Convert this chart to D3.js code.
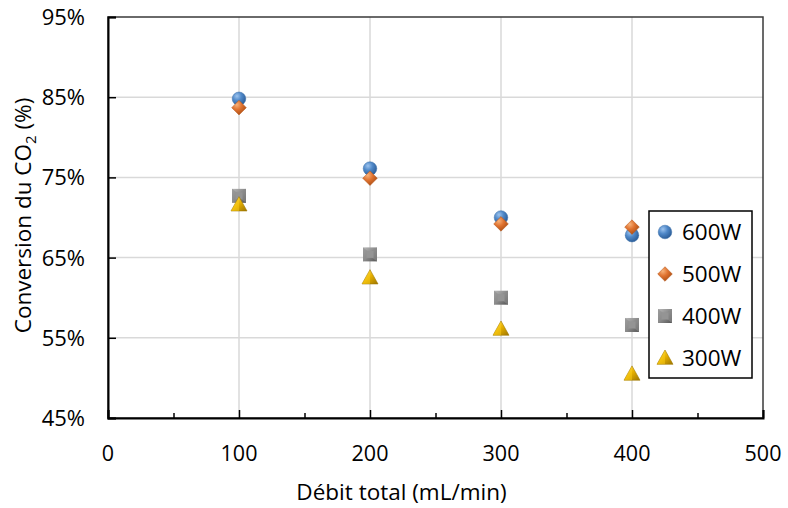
<!DOCTYPE html>
<html><head><meta charset="utf-8">
<script src="https://cdn.jsdelivr.net/npm/d3@7"></script>
<style>body{margin:0;background:#fff}svg{display:block}text{font-family:"Open Sans",sans-serif;fill:#000}</style>
</head><body><svg id="c" width="788" height="508"></svg>
<script>
const debit = [100, 200, 300, 400];
const s600 = [84.8, 76.1, 70.0, 67.8];
const s500 = [83.7, 74.9, 69.2, 68.8];
const s400 = [72.7, 65.4, 60.0, 56.6];
const s300 = [71.6, 62.5, 56.1, 50.5];
const seriesNames = ["600W", "500W", "400W", "300W"];
const xTicks = [0, 100, 200, 300, 400, 500];
const xMinor = [50, 150, 250, 350, 450];
const yTicks = [45, 55, 65, 75, 85, 95];

const svg = d3.select("#c");
const L = 108, R = 763, T = 17, B = 418;
const x = d3.scaleLinear().domain([0, 500]).range([L, R]);
const y = d3.scaleLinear().domain([45, 95]).range([B, T]);

const defs = svg.append("defs");
function radial(id, stops) {
  const g = defs.append("radialGradient").attr("id", id).attr("cx", "35%").attr("cy", "30%").attr("r", "75%");
  stops.forEach(s => g.append("stop").attr("offset", s[0]).attr("stop-color", s[1]));
}
radial("gBlue", [[0, "#9cc3ee"], [0.45, "#4f88c8"], [1, "#2a5a94"]]);
radial("gOrange", [[0, "#f7b27a"], [0.45, "#e07330"], [1, "#a84b12"]]);
const lg = defs.append("linearGradient").attr("id", "gGold").attr("x1", "0").attr("y1", "0").attr("x2", "1").attr("y2", "1");
[[0, "#ffe066"], [0.5, "#e6b000"], [1, "#9c7400"]].forEach(s => lg.append("stop").attr("offset", s[0]).attr("stop-color", s[1]));
const gg = defs.append("linearGradient").attr("id", "gGray").attr("x1", "0").attr("y1", "0").attr("x2", "1").attr("y2", "1");
[[0, "#b8b8b8"], [0.5, "#8a8a8a"], [1, "#555"]].forEach(s => gg.append("stop").attr("offset", s[0]).attr("stop-color", s[1]));

// gridlines
const grid = svg.append("g");
grid.selectAll(".vg").data(xTicks.filter(d => d > 0 && d < 500)).join("line")
  .attr("x1", d => x(d)).attr("x2", d => x(d)).attr("y1", T).attr("y2", B)
  .attr("stroke", "#d9d9d9").attr("stroke-width", 1.5);
grid.selectAll(".hg").data(yTicks.filter(d => d > 45 && d < 95)).join("line")
  .attr("x1", L).attr("x2", R).attr("y1", d => y(d)).attr("y2", d => y(d))
  .attr("stroke", "#d9d9d9").attr("stroke-width", 1.5);

// border
svg.append("rect").attr("x", L).attr("y", T).attr("width", R - L).attr("height", B - T)
  .attr("fill", "none").attr("stroke", "#3a3a3a").attr("stroke-width", 1.5);

// axes
const xAxis = svg.append("g").attr("transform", `translate(0,${B})`)
  .call(d3.axisBottom(x).tickValues(xTicks).tickSize(-8).tickPadding(0).tickFormat(""));
const xAxisMinor = svg.append("g").attr("transform", `translate(0,${B})`)
  .call(d3.axisBottom(x).tickValues(xMinor).tickSize(-5).tickFormat(""));
const yAxis = svg.append("g").attr("transform", `translate(${L},0)`)
  .call(d3.axisLeft(y).tickValues(yTicks).tickSize(-8).tickFormat(""));
[xAxis, xAxisMinor, yAxis].forEach(a => {
  a.select(".domain").attr("stroke", "#000").attr("stroke-width", 2);
  a.selectAll(".tick line").attr("stroke", "#000").attr("stroke-width", 1.5);
});
xAxisMinor.select(".domain").remove();

// tick labels
svg.append("g").selectAll("text").data(xTicks).join("text")
  .attr("x", d => x(d)).attr("y", 461).attr("text-anchor", "middle")
  .attr("font-size", 21.5).text(d => d);
svg.append("g").selectAll("text").data(yTicks).join("text")
  .attr("x", 85).attr("y", d => y(d) + 8).attr("text-anchor", "end")
  .attr("font-size", 22).text(d => d + "%");

// axis titles
svg.append("text").attr("x", (L + R) / 2 - 34).attr("y", 500).attr("text-anchor", "middle")
  .attr("font-size", 22.5).text("Débit total (mL/min)");
const yt = svg.append("text").attr("transform", `translate(31,${(T + B) / 2 - 2}) rotate(-90)`)
  .attr("text-anchor", "middle").attr("font-size", 22.5);
yt.append("tspan").text("Conversion du CO");
yt.append("tspan").attr("font-size", 15).attr("dy", 5).text("2");
yt.append("tspan").attr("dy", -5).text(" (%)");

// marker drawers
const markers = [
  (g) => g.append("circle").attr("r", 6.8).attr("fill", "url(#gBlue)").attr("stroke", "#3a6ea8").attr("stroke-width", 0.5),
  (g) => g.append("path").attr("d", "M0,-7.3L7.3,0L0,7.3L-7.3,0Z").attr("fill", "url(#gOrange)").attr("stroke", "#b5571a").attr("stroke-width", 0.5),
  (g) => { g.append("rect").attr("x", -7).attr("y", -7).attr("width", 14).attr("height", 14).attr("fill", "url(#gGray)");
           g.append("path").attr("d", "M-7,-7L0,-1.5L7,-7L7,7L0,1.5L-7,7Z").attr("fill", "#8c8c8c").attr("opacity", 0.6);
           g.append("rect").attr("x", -3.5).attr("y", -3.5).attr("width", 7).attr("height", 7).attr("fill", "#949494"); },
  (g) => { g.append("path").attr("d", "M0,-8L8,6.3L-8,6.3Z").attr("fill", "url(#gGold)").attr("stroke", "#a07800").attr("stroke-width", 0.6);
           g.append("path").attr("d", "M0,-8L0,6.3L-8,6.3Z").attr("fill", "#ffd21a").attr("opacity", 0.45); }
];
const allSeries = [s600, s500, s400, s300];

const drawOrder = [2, 3, 0, 1];
drawOrder.forEach(si => {
  const pts = svg.append("g").selectAll("g").data(debit.map((d, i) => [d, allSeries[si][i]])).join("g")
    .attr("transform", d => `translate(${x(d[0])},${y(d[1])})`);
  pts.each(function () { markers[si](d3.select(this)); });
});

// legend
const leg = svg.append("g");
leg.append("rect").attr("x", 649).attr("y", 211).attr("width", 103).attr("height", 167)
  .attr("fill", "#fff").attr("stroke", "#000").attr("stroke-width", 1.5);
seriesNames.forEach((n, i) => {
  const cy = 232 + i * 42;
  const g = leg.append("g").attr("transform", `translate(665,${cy})`);
  markers[i](g);
  leg.append("text").attr("x", 682).attr("y", cy + 8).attr("font-size", 22.5).text(n);
});
</script></body></html>
